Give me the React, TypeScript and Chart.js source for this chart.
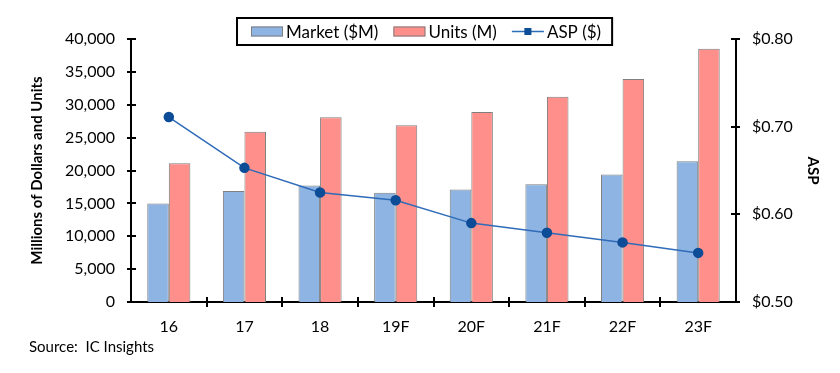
import React, { useEffect, useRef } from "react";
import { Chart, registerables } from "chart.js";

Chart.register(...registerables);

const categories = ["16", "17", "18", "19F", "20F", "21F", "22F", "23F"];
const marketValues = [15000, 16900, 17700, 16600, 17100, 17900, 19400, 21400];
const unitValues = [21100, 25900, 28100, 26900, 28900, 31200, 33900, 38500];
const aspValues = [0.711, 0.653, 0.625, 0.616, 0.59, 0.579, 0.568, 0.556];
const leftTicks = [0, 5000, 10000, 15000, 20000, 25000, 30000, 35000, 40000];
const rightTicks = [0.5, 0.6, 0.7, 0.8];

const FONT = "Lato, 'Open Sans', sans-serif";
const BLUE = "#8DB4E2";
const RED = "#FF8F8A";
const BORDER = "#7F7F7F";
const LINE = "#2E6BB8";
const MARK = "#0D4C97";

const decorPlugin = {
  id: "decor",
  afterDraw(chart: any) {
    const ctx = chart.ctx;
    const x = chart.scales.x;
    const yl = chart.scales.y;
    const yr = chart.scales.y1;
    ctx.save();
    ctx.strokeStyle = "#000";
    ctx.lineWidth = 2;
    ctx.beginPath();
    yl.ticks.forEach((t: any) => {
      const py = Math.round(yl.getPixelForValue(t.value));
      ctx.moveTo(yl.right - 4, py);
      ctx.lineTo(yl.right + 5, py);
    });
    yr.ticks.forEach((t: any) => {
      const py = Math.round(yr.getPixelForValue(t.value));
      ctx.moveTo(yr.left - 5, py);
      ctx.lineTo(yr.left + 4, py);
    });
    for (let i = 1; i < categories.length; i++) {
      const px = Math.round(x.getPixelForValue(i - 0.5));
      ctx.moveTo(px, x.top - 5);
      ctx.lineTo(px, x.top + 5);
    }
    ctx.stroke();

    // Source
    ctx.fillStyle = "#000";
    ctx.font = `15px ${FONT}`;
    ctx.textAlign = "left";
    ctx.textBaseline = "middle";
    ctx.fillText("Source:  IC Insights", 29, 347);

    // Legend
    const ds = chart.data.datasets;
    ctx.font = `17px ${FONT}`;
    const boxTop = 18;
    const boxH = 27;
    const boxLeft = 237;
    const midY = boxTop + boxH / 2;
    let cx = boxLeft + 14;
    const sw = 32;
    const widths = ds.map((d: any) => ctx.measureText(d.label).width);
    const total =
      14 + ds.length * (sw + 4) + widths.reduce((a: number, b: number) => a + b, 0) + (ds.length - 1) * 14 + 10;
    ctx.fillStyle = "#fff";
    ctx.fillRect(boxLeft, boxTop, total, boxH);
    ctx.strokeStyle = "#000";
    ctx.lineWidth = 2;
    ctx.strokeRect(boxLeft, boxTop, total, boxH);
    ds.forEach((d: any, i: number) => {
      if (d.type === "line") {
        ctx.strokeStyle = d.borderColor;
        ctx.lineWidth = 1.5;
        ctx.beginPath();
        ctx.moveTo(cx, midY);
        ctx.lineTo(cx + sw, midY);
        ctx.stroke();
        ctx.fillStyle = d.pointBackgroundColor;
        ctx.fillRect(cx + sw / 2 - 3.5, midY - 3.5, 7, 7);
      } else {
        ctx.fillStyle = d.backgroundColor;
        ctx.fillRect(cx, midY - 5, sw, 10);
        ctx.strokeStyle = d.borderColor;
        ctx.lineWidth = 1;
        ctx.strokeRect(cx + 0.5, midY - 4.5, sw - 1, 9);
      }
      ctx.fillStyle = "#000";
      ctx.textAlign = "left";
      ctx.textBaseline = "middle";
      ctx.fillText(d.label, cx + sw + 3, midY + 1);
      cx += sw + 4 + widths[i] + 14;
    });
    ctx.restore();
  },
};

export default function App() {
  const ref = useRef<HTMLCanvasElement | null>(null);
  useEffect(() => {
    document.body.style.margin = "0";
    const canvas = ref.current!;
    const chart = new Chart(canvas, {
      type: "bar",
      data: {
        labels: categories,
        datasets: [
          {
            type: "bar",
            label: "Market ($M)",
            data: marketValues,
            backgroundColor: BLUE,
            borderColor: BORDER,
            borderWidth: 1,
            yAxisID: "y",
            order: 1,
            barPercentage: 1,
            categoryPercentage: 0.57,
          },
          {
            type: "bar",
            label: "Units (M)",
            data: unitValues,
            backgroundColor: RED,
            borderColor: BORDER,
            borderWidth: 1,
            yAxisID: "y",
            order: 1,
            barPercentage: 1,
            categoryPercentage: 0.57,
          },
          {
            type: "line",
            label: "ASP ($)",
            data: aspValues,
            borderColor: LINE,
            borderWidth: 1.5,
            pointBackgroundColor: MARK,
            pointBorderColor: MARK,
            pointRadius: 4.5,
            pointStyle: "circle",
            tension: 0,
            yAxisID: "y1",
            order: 0,
          },
        ] as any,
      },
      options: {
        animation: false,
        responsive: false,
        maintainAspectRatio: false,
        layout: { padding: { top: 39, left: 0, right: 0, bottom: 0 } },
        plugins: {
          legend: { display: false },
          tooltip: { enabled: false },
        },
        scales: {
          x: {
            grid: { display: false, drawTicks: false },
            border: { display: true, color: "#000", width: 2 },
            ticks: { color: "#000", font: { family: FONT, size: 16 }, padding: 15 },
            afterFit: (s: any) => {
              s.height = 71;
            },
          },
          y: {
            position: "left",
            min: 0,
            max: 40000,
            afterBuildTicks: (s: any) => {
              s.ticks = leftTicks.map((v) => ({ value: v }));
            },
            grid: { display: false, drawTicks: false },
            border: { display: true, color: "#000", width: 2 },
            ticks: {
              color: "#000",
              font: { family: FONT, size: 16 },
              padding: 16,
              callback: (v: any) => Number(v).toLocaleString("en-US"),
            },
            title: {
              display: true,
              text: "Millions of Dollars and Units",
              color: "#000",
              font: { family: FONT, size: 15, weight: "bold" },
              padding: { top: 28, bottom: 0 },
            },
            afterFit: (s: any) => {
              s.width = 131;
            },
          },
          y1: {
            position: "right",
            min: 0.5,
            max: 0.8,
            afterBuildTicks: (s: any) => {
              s.ticks = rightTicks.map((v) => ({ value: v }));
            },
            grid: { display: false, drawTicks: false },
            border: { display: true, color: "#000", width: 2 },
            ticks: {
              color: "#000",
              font: { family: FONT, size: 16 },
              padding: 16,
              callback: (v: any) => "$" + Number(v).toFixed(2),
            },
            title: {
              display: true,
              text: "ASP",
              color: "#000",
              font: { family: FONT, size: 15, weight: "bold" },
              padding: { top: 18, bottom: 0 },
            },
            afterFit: (s: any) => {
              s.width = 104;
            },
          },
        },
      } as any,
      plugins: [decorPlugin],
    });
    return () => chart.destroy();
  }, []);
  return (
    <div style={{ width: 840, height: 373, background: "#fff" }}>
      <canvas ref={ref} width={840} height={373} style={{ display: "block" }} />
    </div>
  );
}
